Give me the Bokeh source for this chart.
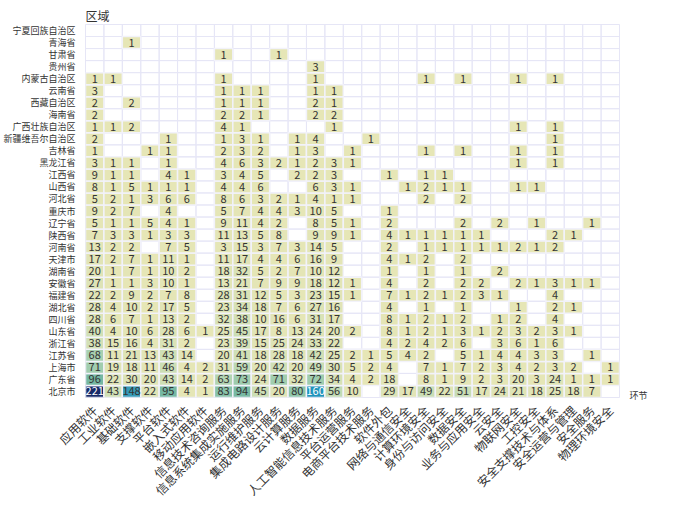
import math
import numpy as np
from bokeh.plotting import figure
from bokeh.models import (ColumnDataSource, LinearColorMapper, Title, FactorRange, CategoricalAxis)
from bokeh.transform import transform
from bokeh.core.properties import value
from bokeh.embed import file_html
from bokeh.resources import INLINE

links = ["应用软件", "工业软件", "基础软件", "支撑软件", "平台软件", "嵌入式软件", "移动应用软件",
         "信息技术咨询服务", "信息系统集成实施服务", "运行维护服务", "集成电路设计服务", "云计算服务",
         "数据服务", "人工智能信息技术服务", "平台运营服务", "电商平台技术服务", "软件外包",
         "网络与通信安全", "计算环境安全", "身份与访问安全", "数据安全", "业务与应用安全", "云安全",
         "物联网安全", "工控安全", "安全支撑技术与体系", "安全运营与管理", "安全服务", "物理环境安全"]

# regions, bottom to top
regions = ["北京市", "广东省", "上海市", "江苏省", "浙江省", "山东省", "四川省", "湖北省", "福建省",
           "安徽省", "湖南省", "天津市", "河南省", "陕西省", "辽宁省", "重庆市", "河北省", "山西省",
           "江西省", "黑龙江省", "吉林省", "新疆维吾尔自治区", "广西壮族自治区", "海南省", "西藏自治区",
           "云南省", "内蒙古自治区", "贵州省", "甘肃省", "青海省", "宁夏回族自治区"]

x_title = "环节"
y_title = "区域"

beijing = [221, 43, 148, 22, 95, 4, 1, 83, 94, 45, 20, 80, 160, 56, 10, 0, 29, 17, 49, 22, 51, 17, 24, 21, 18, 25, 18, 7, 0]
guangdong = [96, 22, 30, 20, 43, 14, 2, 63, 73, 24, 71, 32, 72, 34, 4, 2, 18, 0, 8, 1, 9, 2, 3, 20, 3, 24, 1, 1, 1]
shanghai = [71, 19, 18, 11, 46, 4, 2, 31, 59, 20, 42, 20, 49, 30, 5, 2, 4, 0, 7, 1, 7, 2, 3, 4, 2, 3, 2, 0, 1]
jiangsu = [68, 11, 21, 13, 43, 14, 0, 20, 41, 18, 28, 18, 42, 25, 2, 1, 5, 4, 2, 0, 5, 1, 4, 4, 3, 3, 0, 1, 0]
zhejiang = [38, 15, 16, 4, 31, 2, 0, 23, 39, 15, 25, 24, 33, 22, 0, 0, 4, 2, 4, 2, 6, 0, 3, 6, 1, 6, 0, 0, 0]
shandong = [40, 4, 10, 6, 28, 6, 1, 25, 45, 17, 8, 13, 24, 20, 2, 0, 8, 1, 2, 1, 3, 1, 2, 3, 2, 3, 1, 0, 0]
sichuan = [28, 6, 7, 1, 13, 2, 0, 32, 38, 10, 16, 6, 31, 17, 0, 0, 8, 1, 2, 1, 2, 0, 1, 2, 0, 4, 0, 0, 0]
hubei = [28, 4, 10, 2, 17, 5, 0, 23, 34, 18, 7, 6, 27, 16, 0, 0, 4, 0, 1, 0, 1, 0, 0, 1, 0, 2, 1, 0, 0]
fujian = [22, 2, 9, 2, 7, 8, 0, 28, 31, 12, 5, 3, 23, 15, 1, 0, 7, 1, 2, 1, 2, 3, 1, 0, 0, 4, 0, 0, 0]
anhui = [27, 1, 1, 3, 10, 1, 0, 13, 21, 7, 9, 9, 18, 12, 1, 0, 4, 0, 2, 0, 2, 2, 0, 2, 1, 3, 1, 1, 0]
hunan = [20, 1, 7, 1, 10, 2, 0, 18, 32, 5, 2, 7, 10, 12, 0, 0, 1, 0, 1, 0, 1, 0, 2, 0, 0, 0, 0, 0, 0]
tianjin = [17, 2, 7, 1, 11, 1, 0, 11, 17, 4, 4, 6, 16, 9, 0, 0, 4, 1, 2, 0, 2, 0, 0, 0, 0, 0, 0, 0, 0]
henan = [13, 2, 2, 0, 7, 5, 0, 3, 15, 3, 7, 3, 14, 5, 0, 0, 2, 0, 1, 1, 1, 1, 1, 2, 1, 2, 0, 0, 0]
shaanxi = [7, 3, 3, 1, 3, 3, 0, 11, 13, 5, 8, 0, 9, 9, 1, 0, 4, 1, 1, 1, 1, 1, 0, 0, 0, 2, 1, 0, 0]
liaoning = [5, 1, 1, 5, 4, 1, 0, 9, 11, 4, 2, 0, 8, 5, 1, 0, 2, 0, 0, 0, 2, 0, 2, 0, 1, 0, 0, 1, 0]
chongqing = [9, 2, 7, 0, 4, 0, 0, 5, 7, 4, 4, 3, 10, 5, 0, 0, 1, 0, 0, 0, 0, 0, 0, 0, 0, 0, 0, 0, 0]
hebei = [5, 2, 1, 3, 6, 6, 0, 8, 6, 3, 2, 1, 4, 1, 1, 0, 0, 0, 2, 0, 2, 0, 0, 0, 0, 0, 0, 0, 0]
shanxi = [8, 1, 5, 1, 1, 1, 0, 4, 4, 6, 0, 0, 6, 3, 1, 0, 0, 1, 2, 1, 1, 0, 0, 1, 1, 0, 0, 0, 0]
jiangxi = [9, 1, 1, 0, 4, 1, 0, 3, 4, 5, 0, 2, 2, 3, 0, 0, 1, 0, 1, 1, 0, 0, 0, 0, 0, 0, 0, 0, 0]
heilongjiang = [3, 1, 1, 0, 1, 0, 0, 4, 6, 3, 2, 1, 2, 3, 1, 0, 0, 0, 0, 0, 0, 0, 0, 1, 0, 1, 0, 0, 0]
jilin = [1, 0, 0, 1, 1, 0, 0, 2, 3, 2, 0, 1, 3, 0, 1, 0, 0, 0, 1, 0, 1, 0, 0, 1, 0, 1, 0, 0, 0]
xinjiang = [2, 0, 0, 0, 1, 0, 0, 1, 3, 1, 0, 1, 4, 0, 0, 1, 0, 0, 0, 0, 0, 0, 0, 0, 0, 1, 0, 0, 0]
guangxi = [1, 1, 2, 0, 0, 0, 0, 4, 1, 0, 0, 0, 0, 1, 0, 0, 0, 0, 0, 0, 0, 0, 0, 1, 0, 1, 0, 0, 0]
hainan = [2, 0, 0, 0, 0, 0, 0, 2, 2, 1, 0, 0, 2, 2, 0, 0, 0, 0, 0, 0, 0, 0, 0, 0, 0, 0, 0, 0, 0]
xizang = [2, 0, 2, 0, 0, 0, 0, 1, 1, 1, 0, 0, 2, 1, 0, 0, 0, 0, 0, 0, 0, 0, 0, 0, 0, 0, 0, 0, 0]
yunnan = [3, 0, 0, 0, 0, 0, 0, 1, 1, 1, 0, 0, 1, 1, 0, 0, 0, 0, 0, 0, 0, 0, 0, 0, 0, 0, 0, 0, 0]
neimenggu = [1, 1, 0, 0, 0, 0, 0, 1, 0, 0, 0, 0, 1, 0, 0, 0, 0, 0, 1, 0, 1, 0, 0, 1, 0, 1, 0, 0, 0]
guizhou = [0, 0, 0, 0, 0, 0, 0, 0, 0, 0, 0, 0, 3, 0, 0, 0, 0, 0, 0, 0, 0, 0, 0, 0, 0, 0, 0, 0, 0]
gansu = [0, 0, 0, 0, 0, 0, 0, 1, 0, 0, 1, 0, 0, 0, 0, 0, 0, 0, 0, 0, 0, 0, 0, 0, 0, 0, 0, 0, 0]
qinghai = [0, 0, 1, 0, 0, 0, 0, 0, 0, 0, 0, 0, 0, 0, 0, 0, 0, 0, 0, 0, 0, 0, 0, 0, 0, 0, 0, 0, 0]
ningxia = [0] * 29

rows = [beijing, guangdong, shanghai, jiangsu, zhejiang, shandong, sichuan, hubei, fujian,
        anhui, hunan, tianjin, henan, shaanxi, liaoning, chongqing, hebei, shanxi,
        jiangxi, heilongjiang, jilin, xinjiang, guangxi, hainan, xizang,
        yunnan, neimenggu, guizhou, gansu, qinghai, ningxia]

# background grid (all cells)
gx, gy = [], []
for r in regions:
    for l in links:
        gx.append(l)
        gy.append(r)
grid_src = ColumnDataSource(dict(x=gx, y=gy))

# non-empty cells
cx, cy, cv, ct, tc = [], [], [], [], []
for r, vals in zip(regions, rows):
    for l, v in zip(links, vals):
        if v > 0:
            cx.append(l)
            cy.append(r)
            cv.append(v)
            ct.append(str(v))
            tc.append("#ffffff" if v > 150 else "#333333")
cell_src = ColumnDataSource(dict(x=cx, y=cy, v=cv, t=ct, tc=tc))

# palette
stops = [(0.0, "#e6e6b6"), (0.12, "#dde3b6"), (0.25, "#c2dbb5"), (0.36, "#8cc4aa"),
         (0.45, "#6fb4a0"), (0.62, "#4ea2b2"), (0.72, "#1f95bd"), (0.85, "#1f5f98"), (1.0, "#172a68")]
def hx(c):
    return np.array([int(c[i:i + 2], 16) for i in (1, 3, 5)], dtype=float)
pos = np.array([s[0] for s in stops])
cols = np.array([hx(s[1]) for s in stops])
palette = []
for t in np.linspace(0, 1, 256):
    rgb = [np.interp(t, pos, cols[:, k]) for k in range(3)]
    palette.append("#%02x%02x%02x" % tuple(int(round(c)) for c in rgb))
mapper = LinearColorMapper(palette=palette, low=1, high=221)

p = figure(x_range=FactorRange(factors=links), y_range=FactorRange(factors=regions),
           frame_width=534, frame_height=373,
           min_border_left=75, min_border_top=24, min_border_right=60, min_border_bottom=90,
           output_backend="svg", toolbar_location=None, background_fill_color="#ffffff")

p.rect(x="x", y="y", width=1, height=1, source=grid_src, fill_color=None,
       line_color="#e6e6f6", line_width=1)
p.rect(x="x", y="y", width=1, height=1, source=cell_src,
       fill_color=transform("v", mapper), line_color="#f2f2fa", line_width=1.5)
p.text(x="x", y="y", text="t", source=cell_src, text_align="center", text_baseline="middle",
       text_font_size="11px", text_color="tc", text_font=value("Noto Sans CJK SC"))

p.outline_line_color = "#e6e6f6"
p.xgrid.grid_line_color = None
p.ygrid.grid_line_color = None

# right-side axis used only to carry the x-axis name near the bottom edge
name_factors = [x_title] + [" " * (k + 1) for k in range(4 * len(regions) - 1)]
p.extra_y_ranges = {"name": FactorRange(factors=name_factors)}
raxis = CategoricalAxis(y_range_name="name")
p.add_layout(raxis, "right")

for ax in (p.xaxis[0], p.yaxis[0], raxis):
    ax.axis_line_color = None
    ax.major_tick_line_color = None
    ax.minor_tick_line_color = None
    ax.major_label_text_font = "Noto Sans CJK SC"
    ax.major_label_text_color = "#333333"

raxis.major_label_text_font_size = "13px"
raxis.major_label_standoff = 10

p.xaxis.major_label_orientation = math.pi / 4
p.xaxis.major_label_text_font_size = "12px"
p.xaxis.major_label_standoff = 4
p.yaxis.major_label_text_font_size = "9px"
p.yaxis.major_label_standoff = 4

p.add_layout(Title(text=y_title, align="left", offset=0, standoff=2,
                   text_font_size="12px", text_font_style="normal",
                   text_color="#333333", text_font="Noto Sans CJK SC"), "above")

open("out.html", "w").write(file_html(p, INLINE))
